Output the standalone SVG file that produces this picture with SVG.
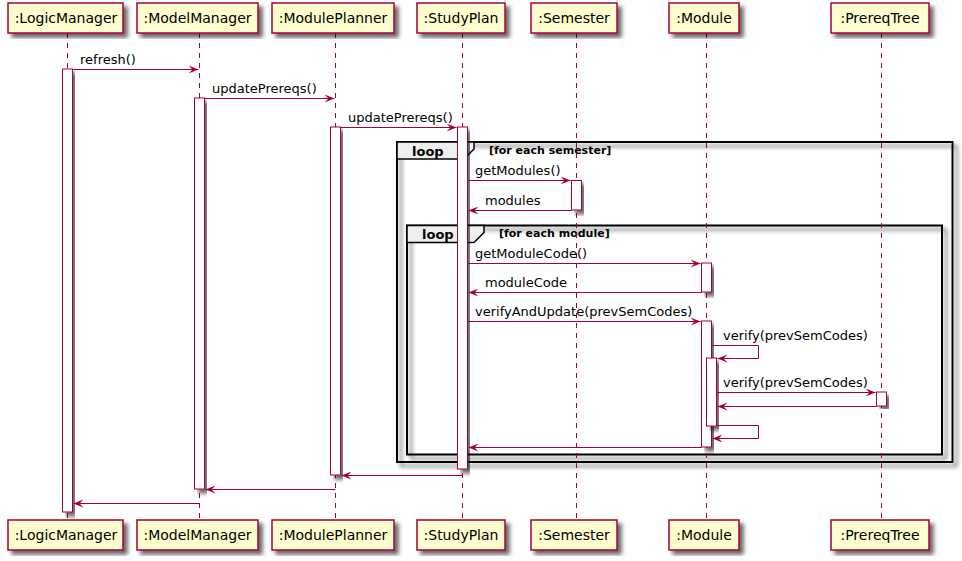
<svg xmlns="http://www.w3.org/2000/svg" width="962" height="561" viewBox="0 0 962 561">
<defs>
<filter id="sh" x="-10%" y="-10%" width="130%" height="130%">
<feGaussianBlur in="SourceAlpha" stdDeviation="2" result="b"/>
<feOffset in="b" dx="4" dy="4" result="o"/>
<feComponentTransfer in="o" result="c"><feFuncA type="linear" slope="0.6"/></feComponentTransfer>
<feMerge><feMergeNode in="c"/><feMergeNode in="SourceGraphic"/></feMerge>
</filter>
<marker id="ah" viewBox="0 0 10 8" refX="10" refY="4" markerWidth="10" markerHeight="8" markerUnits="userSpaceOnUse" orient="auto">
<path d="M0,0 L10,4 L0,8 L4,4 Z" fill="#A80036"/>
</marker>
</defs>
<style>
.pbox{fill:#FEFECE;stroke:#A80036;stroke-width:1.5;filter:url(#sh)}
.pt{font-family:"DejaVu Sans",sans-serif;font-size:14px;fill:#000;text-anchor:middle}
.life{stroke:#A80036;stroke-width:1;stroke-dasharray:5,5;fill:none}
.act{fill:#FFFFFF;stroke:#A80036;stroke-width:1;filter:url(#sh)}
.msg{stroke:#A80036;stroke-width:1;fill:none;marker-end:url(#ah)}
.mt{font-family:"DejaVu Sans",sans-serif;font-size:13px;fill:#000}
.grp{fill:none;stroke:#000;stroke-width:2;filter:url(#sh)}
.ghead{fill:#EEEEEE;stroke:#000;stroke-width:1.5}
.gl{font-family:"DejaVu Sans",sans-serif;font-size:13px;font-weight:bold;fill:#000}
.gc{font-family:"DejaVu Sans",sans-serif;font-size:11px;font-weight:bold;fill:#000}
</style>
<rect width="962" height="561" fill="#FFFFFF"/>

<g id="loop-semester">
<rect class="grp" x="397" y="142" width="555.5" height="320"/>
<path class="ghead" d="M397,142 L474,142 L474,149 L464,159 L397,159 Z"/>
<text class="gl" x="412" y="155.5">loop</text>
<text class="gc" x="489" y="154">[for each semester]</text>
</g>
<g id="loop-module">
<rect class="grp" x="407" y="225.5" width="535" height="229"/>
<path class="ghead" d="M407,225.5 L484,225.5 L484,232.5 L474,242.5 L407,242.5 Z"/>
<text class="gl" x="422" y="238.5">loop</text>
<text class="gc" x="499" y="237">[for each module]</text>
</g>

<g id="lifelines">
<line class="life" x1="67.5" y1="33" x2="67.5" y2="520"/>
<line class="life" x1="199.5" y1="33" x2="199.5" y2="520"/>
<line class="life" x1="335.5" y1="33" x2="335.5" y2="520"/>
<line class="life" x1="462.5" y1="33" x2="462.5" y2="520"/>
<line class="life" x1="576.5" y1="33" x2="576.5" y2="520"/>
<line class="life" x1="706.5" y1="33" x2="706.5" y2="520"/>
<line class="life" x1="881.5" y1="33" x2="881.5" y2="520"/>
</g>

<g id="activations">
<rect class="act" x="62.5" y="69" width="10" height="443"/>
<rect class="act" x="194.5" y="98" width="10" height="391"/>
<rect class="act" x="330.5" y="127" width="10" height="348"/>
<rect class="act" x="457.5" y="127" width="10" height="342"/>
<rect class="act" x="571.5" y="180.5" width="10" height="29.5"/>
<rect class="act" x="701.5" y="263" width="10" height="29"/>
<rect class="act" x="701.5" y="321" width="10" height="126"/>
<rect class="act" x="706.5" y="358" width="10" height="68"/>
<rect class="act" x="876.5" y="392" width="10" height="14"/>
</g>

<g id="LogicManager">
<rect class="pbox" x="8" y="3" width="115" height="30"/>
<text class="pt" x="66" y="23">:LogicManager</text>
<rect class="pbox" x="8" y="520" width="115" height="30"/>
<text class="pt" x="66" y="540">:LogicManager</text>
</g>
<g id="ModelManager">
<rect class="pbox" x="137" y="3" width="121" height="30"/>
<text class="pt" x="197.5" y="23">:ModelManager</text>
<rect class="pbox" x="137" y="520" width="121" height="30"/>
<text class="pt" x="197.5" y="540">:ModelManager</text>
</g>
<g id="ModulePlanner">
<rect class="pbox" x="272" y="3" width="122" height="30"/>
<text class="pt" x="333" y="23">:ModulePlanner</text>
<rect class="pbox" x="272" y="520" width="122" height="30"/>
<text class="pt" x="333" y="540">:ModulePlanner</text>
</g>
<g id="StudyPlan">
<rect class="pbox" x="417" y="3" width="88" height="30"/>
<text class="pt" x="461" y="23">:StudyPlan</text>
<rect class="pbox" x="417" y="520" width="88" height="30"/>
<text class="pt" x="461" y="540">:StudyPlan</text>
</g>
<g id="Semester">
<rect class="pbox" x="531" y="3" width="86" height="30"/>
<text class="pt" x="574" y="23">:Semester</text>
<rect class="pbox" x="531" y="520" width="86" height="30"/>
<text class="pt" x="574" y="540">:Semester</text>
</g>
<g id="Module">
<rect class="pbox" x="669" y="3" width="70" height="30"/>
<text class="pt" x="704" y="23">:Module</text>
<rect class="pbox" x="669" y="520" width="70" height="30"/>
<text class="pt" x="704" y="540">:Module</text>
</g>
<g id="PrereqTree">
<rect class="pbox" x="831" y="3" width="98" height="30"/>
<text class="pt" x="880" y="23">:PrereqTree</text>
<rect class="pbox" x="831" y="520" width="98" height="30"/>
<text class="pt" x="880" y="540">:PrereqTree</text>
</g>

<g id="connectors">
<line class="msg" x1="72.5" y1="69.5" x2="198.5" y2="69.5"/>
<text class="mt" x="80" y="64">refresh()</text>
<line class="msg" x1="204.5" y1="98.5" x2="334.5" y2="98.5"/>
<text class="mt" x="212" y="93">updatePrereqs()</text>
<line class="msg" x1="340.5" y1="127.5" x2="456.5" y2="127.5"/>
<text class="mt" x="348" y="122">updatePrereqs()</text>
<line class="msg" x1="467.5" y1="180.5" x2="570.5" y2="180.5"/>
<text class="mt" x="475" y="175">getModules()</text>
<line class="msg" x1="571.5" y1="210.5" x2="468.5" y2="210.5"/>
<text class="mt" x="485" y="205">modules</text>
<line class="msg" x1="467.5" y1="263.5" x2="700.5" y2="263.5"/>
<text class="mt" x="475" y="258">getModuleCode()</text>
<line class="msg" x1="701.5" y1="292.5" x2="468.5" y2="292.5"/>
<text class="mt" x="485" y="287">moduleCode</text>
<line class="msg" x1="467.5" y1="321.5" x2="700.5" y2="321.5"/>
<text class="mt" x="475" y="316">verifyAndUpdate(prevSemCodes)</text>
<polyline class="msg" points="711.5,345.5 758.5,345.5 758.5,358.5 717.5,358.5"/>
<text class="mt" x="723" y="340">verify(prevSemCodes)</text>
<line class="msg" x1="716.5" y1="392.5" x2="875.5" y2="392.5"/>
<text class="mt" x="723" y="387">verify(prevSemCodes)</text>
<line class="msg" x1="876.5" y1="406.5" x2="717.5" y2="406.5"/>
<polyline class="msg" points="716.5,425.5 758.5,425.5 758.5,438.5 712.5,438.5"/>
<line class="msg" x1="701.5" y1="447.5" x2="468.5" y2="447.5"/>
<line class="msg" x1="462.5" y1="475.5" x2="341.5" y2="475.5"/>
<line class="msg" x1="335.5" y1="489.5" x2="205.5" y2="489.5"/>
<line class="msg" x1="199.5" y1="503.5" x2="73.5" y2="503.5"/>
</g>
</svg>
